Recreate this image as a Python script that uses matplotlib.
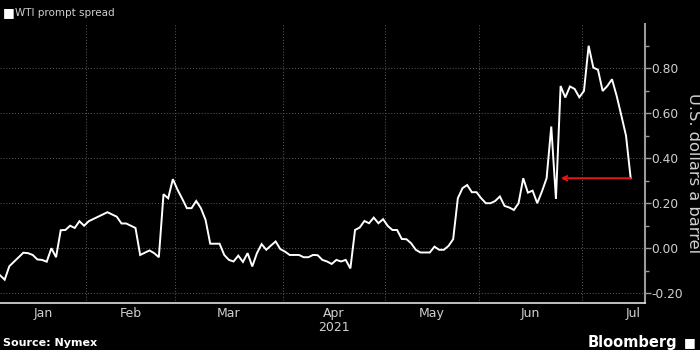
import numpy as np
import matplotlib
matplotlib.use("Agg")
import matplotlib.pyplot as plt
from matplotlib.ticker import MultipleLocator, FixedLocator, NullFormatter

# WTI prompt spread, one value per trading day (Jan 2021 - mid Jul 2021)
spread = [
    -0.12, -0.14, -0.08, -0.06, -0.04, -0.02, -0.022, -0.03, -0.05, -0.052,
    -0.06, 0.0, -0.04, 0.08, 0.081, 0.10, 0.09, 0.12, 0.10, 0.12,
    0.13, 0.14, 0.15, 0.16, 0.15, 0.14, 0.11, 0.11, 0.10, 0.09,
    -0.03, -0.02, -0.01, -0.022, -0.04, 0.24, 0.222, 0.307, 0.26, 0.22,
    0.178, 0.178, 0.21, 0.178, 0.126, 0.02, 0.02, 0.02, -0.03, -0.052,
    -0.059, -0.033, -0.061, -0.022, -0.081, -0.022, 0.018, -0.007, 0.012, 0.03,
    -0.004, -0.015, -0.03, -0.03, -0.03, -0.04, -0.04, -0.03, -0.031, -0.052,
    -0.059, -0.07, -0.052, -0.059, -0.052, -0.09, 0.081, 0.092, 0.121, 0.111,
    0.136, 0.111, 0.129, 0.099, 0.081, 0.081, 0.041, 0.04, 0.022, -0.007,
    -0.019, -0.019, -0.019, 0.007, -0.007, -0.007, 0.01, 0.04, 0.222, 0.267,
    0.281, 0.249, 0.249, 0.222, 0.2, 0.2, 0.21, 0.23, 0.188, 0.181,
    0.17, 0.2, 0.311, 0.247, 0.256, 0.2, 0.252, 0.311, 0.541, 0.219,
    0.721, 0.67, 0.719, 0.708, 0.671, 0.699, 0.90, 0.803, 0.793, 0.699,
    0.721, 0.751, 0.677, 0.59, 0.50, 0.311,
]
months = ["Jan", "Feb", "Mar", "Apr", "May", "Jun", "Jul"]
month_starts = [0, 19, 38, 61, 83, 103, 125]  # first trading day index of each month
year_label = "2021"
arrow_to_day = 120

days = np.arange(len(spread))
fg = "#d0d0d0"
grid_c = "#5e5e5e"
narrow = ["Liberation Sans Narrow", "DejaVu Sans"]

fig = plt.figure(figsize=(7, 3.5), dpi=100, facecolor="black")
ax = fig.add_axes([0.0, 0.134, 0.921, 0.797], facecolor="black")

ax.plot(days, spread, color="white", lw=1.4, solid_joinstyle="miter", zorder=3)

# red dotted arrow from last value back to where the spread was first this level
ax.annotate("", xy=(arrow_to_day, spread[-1]), xytext=(days[-1], spread[-1]),
            arrowprops=dict(arrowstyle="->", color="#e8141c", lw=1.4,
                            linestyle=(0, (1, 0.6)), shrinkA=0, shrinkB=0,
                            mutation_scale=8),
            zorder=4)

ax.set_xlim(0, 138)
ax.set_ylim(-0.244, 0.996)

# month dividers
bounds = [s - 0.5 for s in month_starts[1:]]
ax.xaxis.set_major_locator(FixedLocator(bounds))
ax.xaxis.set_major_formatter(NullFormatter())
ends = month_starts[1:] + [month_starts[-1] + 22]
centers = [(s - 0.5 + e - 0.5) / 2 for s, e in zip(month_starts, ends)]
centers[0] = (0 + bounds[0]) / 2
ax.xaxis.set_minor_locator(FixedLocator(centers))
ax.set_xticklabels(months, minor=True)
ax.tick_params(axis="x", which="both", length=0, colors=fg, labelsize=9, pad=3)
ax.text(centers[3], -0.063, year_label, transform=ax.get_xaxis_transform(),
        ha="center", va="top", color=fg, fontsize=9)

# right value axis
ax.yaxis.tick_right()
ax.yaxis.set_major_locator(MultipleLocator(0.2))
ax.yaxis.set_minor_locator(MultipleLocator(0.1))
ax.yaxis.set_major_formatter(plt.FuncFormatter(lambda v, p: f"{v:.2f}"))
ax.tick_params(axis="y", which="major", length=4, width=1, colors="#9a9a9a",
               labelcolor=fg, labelsize=8.8, pad=0.5)
ax.tick_params(axis="y", which="minor", length=3, width=1, colors="#9a9a9a")
fig.text(0.991, 0.506, "U.S. dollars a barrel", color=fg, fontsize=11.7,
         family=narrow, rotation=-90, ha="center", va="center")

ax.grid(True, which="major", axis="both", color=grid_c, lw=0.7,
        linestyle=(0, (1, 2)))
for side in ["top", "left"]:
    ax.spines[side].set_visible(False)
ax.spines["right"].set_color("#9a9a9a")
ax.spines["right"].set_linewidth(1.5)
ax.spines["bottom"].set_color("#e0e0e0")
ax.spines["bottom"].set_linewidth(1.2)

# legend
fig.text(0.004, 0.963, "\u25a0", color="white", fontsize=9, va="center")
fig.text(0.021, 0.963, "WTI prompt spread", color=fg, fontsize=7.5, va="center")

# footer
fig.text(0.004, 0.02, "Source: Nymex", color="white", fontsize=8,
         fontweight="bold", va="center")
fig.text(0.968, 0.022, "Bloomberg", color="white", fontsize=10.5,
         family=narrow, fontweight="bold", va="center", ha="right")
fig.text(0.994, 0.022, "\u25a0", color="white", fontsize=9, va="center",
         ha="right")

fig.savefig("out.png", dpi=100, facecolor="black")
plt.close(fig)
